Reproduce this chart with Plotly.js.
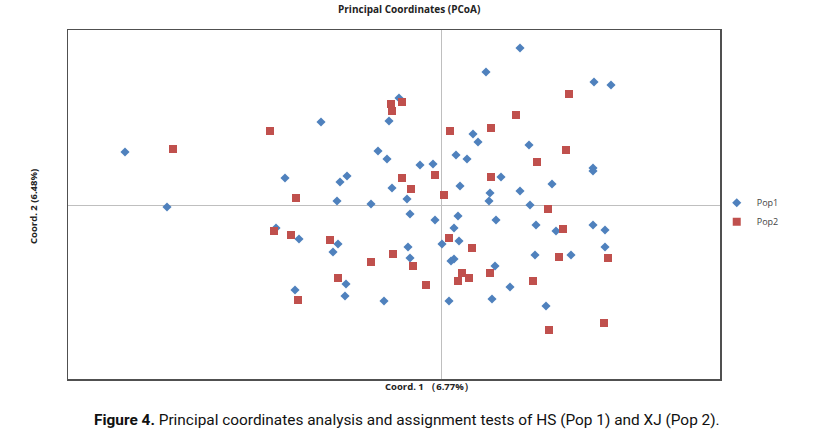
<!DOCTYPE html>
<html>
<head>
<meta charset="utf-8">
<script src="https://cdn.plot.ly/plotly-3.0.1.min.js"></script>
<style>html,body{margin:0;padding:0;background:#fff;}#chart{width:830px;height:441px;}</style>
</head>
<body>
<div id="chart"></div>
<script>
// Pop1 (HS) coordinates
const pop1X = [-3.16,-2.74,-1.56,-1.20,-0.42,-0.52,0.45,0.79,1.53,1.70,0.32,0.37,-0.63,-0.54,0.15,0.26,-0.21,-0.08,-1.01,-0.94,0.60,-0.49,0.19,-1.04,-0.70,-0.34,0.49,0.48,0.88,1.52,1.52,0.79,1.11,0.89,-1.65,-0.31,-0.06,0.17,0.55,-1.42,-1.03,-1.08,0.13,0.18,0.01,-0.33,-0.31,0.10,0.13,0.54,-0.95,-1.46,-0.96,-0.57,0.08,0.51,0.69,0.95,1.15,1.52,1.64,1.64,0.94,1.30,1.05];
const pop1Y = [0.53,-0.02,0.27,0.83,1.07,0.84,1.33,1.57,1.23,1.20,0.71,0.63,0.54,0.46,0.50,0.46,0.40,0.41,0.23,0.29,0.28,0.17,0.19,0.04,0.01,0.06,0.12,0.04,0.60,0.37,0.34,0.14,0.21,0.00,-0.23,-0.09,-0.15,-0.11,-0.15,-0.34,-0.39,-0.47,-0.23,-0.36,-0.39,-0.42,-0.53,-0.56,-0.54,-0.61,-0.79,-0.85,-0.91,-0.96,-0.96,-0.94,-0.82,-0.20,-0.26,-0.20,-0.25,-0.42,-0.50,-0.50,-1.01];
// Pop2 (XJ) coordinates
const pop2X = [-2.68,-1.71,-0.50,-0.39,-0.49,0.09,0.50,-0.39,-0.06,0.50,-0.30,-1.45,0.03,1.28,0.75,1.25,0.96,1.07,-1.67,-1.50,-1.11,0.08,0.31,-0.48,-0.70,-0.28,0.21,0.28,0.17,0.49,-1.03,-0.15,-1.43,1.22,1.18,1.67,0.92,1.63,1.08];
const pop2Y = [0.56,0.74,1.01,1.03,0.94,0.74,0.77,0.27,0.30,0.28,0.16,0.07,0.10,1.11,0.90,0.55,0.43,-0.04,-0.26,-0.30,-0.35,-0.33,-0.43,-0.49,-0.57,-0.61,-0.68,-0.73,-0.76,-0.68,-0.73,-0.80,-0.95,-0.24,-0.52,-0.53,-0.76,-1.18,-1.25];
const seriesNames = ["Pop1", "Pop2"];
const chartTitle = "Principal Coordinates (PCoA)";
const xTitle = "Coord. 1 （6.77%）";
const yTitle = "Coord. 2 (6.48%)";
const caption = "<b>Figure 4.</b> Principal coordinates analysis and assignment tests of HS (Pop 1) and XJ (Pop 2).";

const traces = [
  {x: pop1X, y: pop1Y, name: seriesNames[0], type: "scatter", mode: "markers",
   marker: {symbol: "diamond", size: 7, color: "#4F81BD"}},
  {x: pop2X, y: pop2Y, name: seriesNames[1], type: "scatter", mode: "markers",
   marker: {symbol: "square", size: 8, color: "#C0504D"}}
];

const axisCommon = {
  showgrid: false, zeroline: true, zerolinecolor: "#BFBFBF", zerolinewidth: 1,
  showticklabels: false, ticks: "", showline: true, mirror: true,
  linecolor: "#505050", linewidth: 1.5, fixedrange: true
};

const layout = {
  width: 830, height: 441,
  margin: {l: 68, r: 110, t: 30, b: 62},
  paper_bgcolor: "#fff", plot_bgcolor: "#fff",
  font: {family: "Open Sans, sans-serif", color: "#222"},
  title: {text: "<b>" + chartTitle + "</b>", font: {size: 10, color: "#222"},
          x: 0.493, xref: "container", xanchor: "center", y: 0.978, yanchor: "middle"},
  xaxis: Object.assign({}, axisCommon, {range: [-3.73, 2.79]}),
  yaxis: Object.assign({}, axisCommon, {range: [-1.74, 1.75]}),
  showlegend: true,
  legend: {x: 0.995, y: 0.478, xanchor: "left", yanchor: "middle", bgcolor: "rgba(0,0,0,0)",
           font: {size: 9, color: "#444"}, itemwidth: 30, tracegroupgap: 4},
  annotations: [
    {text: "<b>" + xTitle + "</b>", xref: "paper", yref: "paper", x: 0.554, y: -0.0229,
     xanchor: "center", yanchor: "middle", showarrow: false,
     font: {size: 9.5, color: "#222"}},
    {text: "<b>" + yTitle + "</b>", xref: "paper", yref: "paper", x: -0.0537, y: 0.4957,
     xanchor: "center", yanchor: "middle", showarrow: false, textangle: -90,
     font: {size: 9.5, color: "#222"}},
    {text: caption, xref: "paper", yref: "paper", x: 0.52, y: -0.1175,
     xanchor: "center", yanchor: "middle", showarrow: false,
     font: {family: "Roboto, sans-serif", size: 15.4, color: "#111"}}
  ]
};

Plotly.newPlot("chart", traces, layout, {displayModeBar: false, staticPlot: true});
</script>
</body>
</html>
